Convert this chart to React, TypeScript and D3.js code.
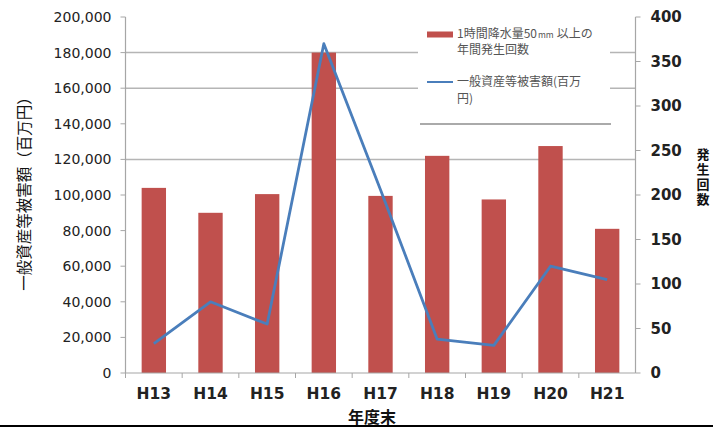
import React from "react";
import * as d3 from "d3";

const categories = ["H13", "H14", "H15", "H16", "H17", "H18", "H19", "H20", "H21"];
const occurrences = [208, 180, 201, 360, 199, 244, 195, 255, 162];
const damage = [16500, 40000, 27500, 185000, 103000, 19000, 15500, 60000, 52500];
const leftTicks = [0, 20000, 40000, 60000, 80000, 100000, 120000, 140000, 160000, 180000, 200000];
const rightTicks = [0, 50, 100, 150, 200, 250, 300, 350, 400];
const gridTicks = [120000, 160000, 180000];
const legendBarLines = ["1時間降水量50", "mm", "以上の", "年間発生回数"];
const legendLineLines = ["一般資産等被害額(百万", "円)"];
const leftTitle = "一般資産等被害額（百万円）";
const rightTitle = "発生回数";
const xTitle = "年度末";

const W = 713, H = 430;
const L = 125.5, R = 635.5, T = 17, B = 373;
const BAR = "#C0504D", LINE = "#4A7EBB", AX = "#a6a6a6";
const NUM = "'DejaVu Sans', Arial, sans-serif";
const CJK = "'Noto Sans CJK JP', sans-serif";

export default function App() {
  const x = d3.scaleBand<string>().domain(categories).range([L, R]).paddingInner(0.57).paddingOuter(0.285);
  const xb = d3.scaleBand<string>().domain(categories).range([L, R]);
  const yL = d3.scaleLinear().domain([0, 200000]).range([B, T]);
  const yR = d3.scaleLinear().domain([0, 400]).range([B, T]);
  const fmt = d3.format(",");
  const line = d3
    .line<number>()
    .x((_, i) => (x(categories[i]) as number) + x.bandwidth() / 2)
    .y((d) => yL(d));

  return (
    <svg width={W} height={H} style={{ position: "absolute", left: 0, top: 0, background: "#fff" }}>
      <rect x={0} y={0} width={W} height={H} fill="#fff" />
      {gridTicks.map((t) => (
        <line key={t} x1={L} x2={R} y1={yL(t)} y2={yL(t)} stroke="#b5b5b5" strokeWidth={1.5} />
      ))}
      {categories.map((c, i) => (
        <rect key={c} x={x(c)} y={yR(occurrences[i])} width={x.bandwidth()} height={B - yR(occurrences[i])} fill={BAR} />
      ))}
      {/* axes */}
      <line x1={L} x2={L} y1={T} y2={B} stroke={AX} strokeWidth={1.2} />
      <line x1={R} x2={R} y1={T} y2={B} stroke={AX} strokeWidth={1.2} />
      <line x1={L} x2={R} y1={B} y2={B} stroke={AX} strokeWidth={1.2} />
      {leftTicks.map((t) => (
        <g key={t}>
          <line x1={L - 5} x2={L} y1={yL(t)} y2={yL(t)} stroke={AX} />
          <text x={L - 14} y={yL(t)} dy="0.36em" textAnchor="end" fontFamily={NUM} fontSize={14} fill="#222">
            {fmt(t)}
          </text>
        </g>
      ))}
      {rightTicks.map((t) => (
        <g key={t}>
          <line x1={R} x2={R + 5} y1={yR(t)} y2={yR(t)} stroke={AX} />
          <text x={R + 15} y={yR(t)} dy="0.36em" textAnchor="start" fontFamily={NUM} fontSize={15} fontWeight="bold" fill="#222">
            {t}
          </text>
        </g>
      ))}
      {categories.map((c) => (
        <line key={c} x1={xb(c)} x2={xb(c)} y1={B} y2={B + 5} stroke={AX} />
      ))}
      {categories.map((c) => (
        <text key={c} x={(x(c) as number) + x.bandwidth() / 2} y={393} dy="0.36em" textAnchor="middle" fontFamily={NUM} fontSize={15.5} fontWeight="bold" fill="#222">
          {c}
        </text>
      ))}
      {/* damage line */}
      <path d={line(damage) || ""} fill="none" stroke={LINE} strokeWidth={2.8} strokeLinejoin="round" />
      {/* legend */}
      <rect x={418} y={22} width={192} height={101} fill="#fff" />
      <line x1={420} x2={611} y1={124} y2={124} stroke="#aaa" strokeWidth={2} />
      <rect x={427} y={31.5} width={26} height={6} fill={BAR} />
      <text x={457} y={34} dy="0.36em" fontFamily={CJK} fontSize={12} fill="#555">
        {legendBarLines[0]}
        <tspan fontSize={8.5} dx={1}>{legendBarLines[1]}</tspan>
        <tspan dx={3}>{legendBarLines[2]}</tspan>
      </text>
      <text x={457} y={50} dy="0.36em" fontFamily={CJK} fontSize={12} fill="#555">
        {legendBarLines[3]}
      </text>
      <line x1={427} x2={453} y1={82} y2={82} stroke={LINE} strokeWidth={2} />
      {legendLineLines.map((s, i) => (
        <text key={s} x={457} y={82 + i * 17} dy="0.36em" fontFamily={CJK} fontSize={12} fill="#555">
          {s}
        </text>
      ))}
      {/* titles */}
      <text transform={`translate(24,190) rotate(-90)`} textAnchor="middle" dy="0.36em" fontFamily={CJK} fontSize={15.5} fill="#111">
        {leftTitle}
      </text>
      <text x={703} y={148} fontFamily={CJK} fontSize={13} fontWeight="bold" fill="#111" letterSpacing={2} style={{ writingMode: "vertical-rl" }}>
        {rightTitle}
      </text>
      <text x={372} y={417} dy="0.36em" textAnchor="middle" fontFamily={CJK} fontSize={16} fontWeight="bold" fill="#111">
        {xTitle}
      </text>
      <line x1={0} x2={W} y1={426} y2={426} stroke="#000" strokeWidth={2} />
    </svg>
  );
}
